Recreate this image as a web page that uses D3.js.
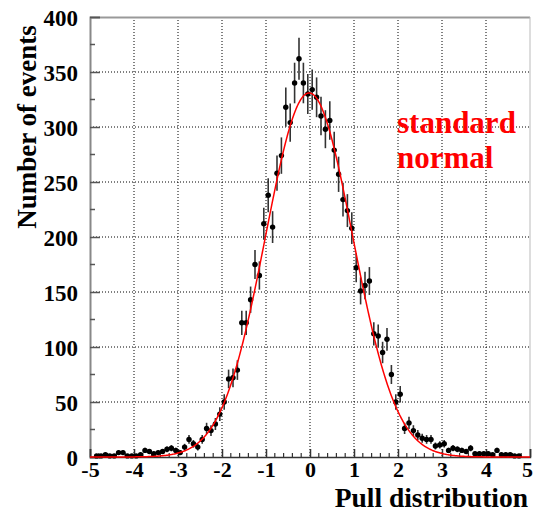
<!DOCTYPE html>
<html><head><meta charset="utf-8">
<script src="https://cdn.jsdelivr.net/npm/d3@7"></script>
<style>body{margin:0;background:#fff}svg{display:block}text{font-family:"Liberation Serif","Times New Roman",serif;font-weight:bold}</style>
</head><body><svg id="c" width="533" height="512"></svg>
<script>
const binCenters = [-4.95,-4.85,-4.75,-4.65,-4.55,-4.45,-4.35,-4.25,-4.15,-4.05,
-3.95,-3.85,-3.75,-3.65,-3.55,-3.45,-3.35,-3.25,-3.15,-3.05,
-2.95,-2.85,-2.75,-2.65,-2.55,-2.45,-2.35,-2.25,-2.15,-2.05,
-1.95,-1.85,-1.75,-1.65,-1.55,-1.45,-1.35,-1.25,-1.15,-1.05,
-0.95,-0.85,-0.75,-0.65,-0.55,-0.45,-0.35,-0.25,-0.15,-0.05,
0.05,0.15,0.25,0.35,0.45,0.55,0.65,0.75,0.85,0.95,
1.05,1.15,1.25,1.35,1.45,1.55,1.65,1.75,1.85,1.95,
2.05,2.15,2.25,2.35,2.45,2.55,2.65,2.75,2.85,2.95,
3.05,3.15,3.25,3.35,3.45,3.55,3.65,3.75,3.85,3.95,
4.05,4.15,4.25,4.35,4.45,4.55,4.65,4.75,4.85,4.95];
const counts = [0,1,1,2,1,1,4,4,1,1,
1,2,6,5,3,4,5,7,8,6,
4,9,16,12,9,16,26,24,30,39,
50,71,72,79,122,122,143,175,165,212,
238,209,258,274,318,304,340,362,340,330,
334,327,310,298,306,279,257,234,224,208,
172,151,156,160,112,110,95,107,75,50,
57,26,31,24,20,17,16,16,10,11,
12,6,8,7,6,5,8,3,3,3,
3,2,6,2,2,2,1,1,0,0];
const binHalfWidth = 0.05;
const xTicks = [-5,-4,-3,-2,-1,0,1,2,3,4,5];
const yTicks = [0,50,100,150,200,250,300,350,400];
// Gaussian fit parameters
const fitAmp = 331, fitMean = -0.02, fitSigma = 0.99;

const svg = d3.select("#c");
const L = 90, R = 530, T = 17, B = 457;
const x = d3.scaleLinear().domain([-5,5]).range([L,R]);
const y = d3.scaleLinear().domain([0,400]).range([B,T]);

// grid
const g = svg.append("g");
g.selectAll("line.vg").data(xTicks.slice(1,-1)).join("line")
  .attr("x1",d=>x(d)).attr("x2",d=>x(d)).attr("y1",T).attr("y2",B)
  .attr("stroke","#000").attr("stroke-width",1).attr("stroke-dasharray","1,2");
g.selectAll("line.hg").data(yTicks.slice(1,-1)).join("line")
  .attr("y1",d=>y(d)).attr("y2",d=>y(d)).attr("x1",L).attr("x2",R)
  .attr("stroke","#000").attr("stroke-width",1).attr("stroke-dasharray","1,2");

// frame
svg.append("line").attr("x1",L).attr("x2",R).attr("y1",T+0.5).attr("y2",T+0.5).attr("stroke","#999").attr("stroke-width",2);
svg.append("line").attr("x1",R).attr("x2",R).attr("y1",T).attr("y2",B).attr("stroke","#bbb").attr("stroke-width",1);

// axes
const yAxis = d3.axisLeft(y).tickValues(yTicks).tickSize(-10).tickPadding(12).tickFormat(d=>String(d));
const ya = svg.append("g").attr("transform",`translate(${L},0)`).call(yAxis);
ya.select(".domain").attr("stroke","#888").attr("stroke-width",2);
ya.selectAll(".tick line").attr("stroke","#555").attr("stroke-width",1.5);
ya.selectAll("text").attr("font-size",23).attr("fill","#000").attr("dy","0.35em");
const yMinor = d3.range(25,400,50);
svg.selectAll("line.ym").data(yMinor).join("line")
  .attr("x1",L).attr("x2",L+5).attr("y1",d=>y(d)).attr("y2",d=>y(d)).attr("stroke","#555").attr("stroke-width",1.5);

const xAxis = d3.axisBottom(x).tickValues(xTicks).tickSize(-8).tickPadding(0).tickFormat(d=>String(d));
const xa = svg.append("g").attr("transform",`translate(0,${B})`).call(xAxis);
xa.select(".domain").attr("stroke","#333").attr("stroke-width",1.5);
xa.selectAll(".tick line").attr("stroke","#333").attr("stroke-width",1.5);
xa.selectAll("text").attr("font-size",22).attr("fill","#000").attr("y",20).attr("dy","0")
  .filter(d=>d===5).attr("x",-3);
const xMinor = d3.range(-4.8,5,0.2).filter(v=>Math.abs(v-Math.round(v))>0.01);
svg.selectAll("line.xm").data(xMinor).join("line")
  .attr("x1",d=>x(d)).attr("x2",d=>x(d)).attr("y1",B).attr("y2",B-4).attr("stroke","#333").attr("stroke-width",1.2);

// titles
svg.append("text").attr("x",528).attr("y",507).attr("text-anchor","end").attr("font-size",27.5).text("Pull distribution");
svg.append("text").attr("transform","translate(36,127) rotate(-90)").attr("text-anchor","middle").attr("font-size",27).text("Number of events");
svg.append("text").attr("x",397).attr("y",133).attr("font-size",31).attr("fill","#ff0000").text("standard");
svg.append("text").attr("x",397).attr("y",168).attr("font-size",31).attr("fill","#ff0000").text("normal");

// data
const pts = binCenters.map((c,i)=>({c, n:counts[i]})).filter(d=>d.n>0);
const dg = svg.append("g");
dg.selectAll("line.ey").data(pts).join("line")
  .attr("x1",d=>x(d.c)).attr("x2",d=>x(d.c))
  .attr("y1",d=>y(d.n+Math.sqrt(d.n))).attr("y2",d=>y(Math.max(0,d.n-Math.sqrt(d.n))))
  .attr("stroke","#333").attr("stroke-width",1.6);
dg.selectAll("line.ex").data(pts).join("line")
  .attr("x1",d=>x(d.c-binHalfWidth)).attr("x2",d=>x(d.c+binHalfWidth))
  .attr("y1",d=>y(d.n)).attr("y2",d=>y(d.n))
  .attr("stroke","#111").attr("stroke-width",1.5);
dg.selectAll("circle").data(pts).join("circle")
  .attr("cx",d=>x(d.c)).attr("cy",d=>y(d.n)).attr("r",2.7).attr("fill","#000");

// fit curve
const xs = d3.range(0,501).map(i=>-5+i*0.02);
const line = d3.line().x(v=>x(v)).y(v=>y(fitAmp*Math.exp(-0.5*Math.pow((v-fitMean)/fitSigma,2))));
svg.append("path").datum(xs).attr("d",line).attr("fill","none").attr("stroke","#ff0000").attr("stroke-width",1.5);
</script></body></html>
